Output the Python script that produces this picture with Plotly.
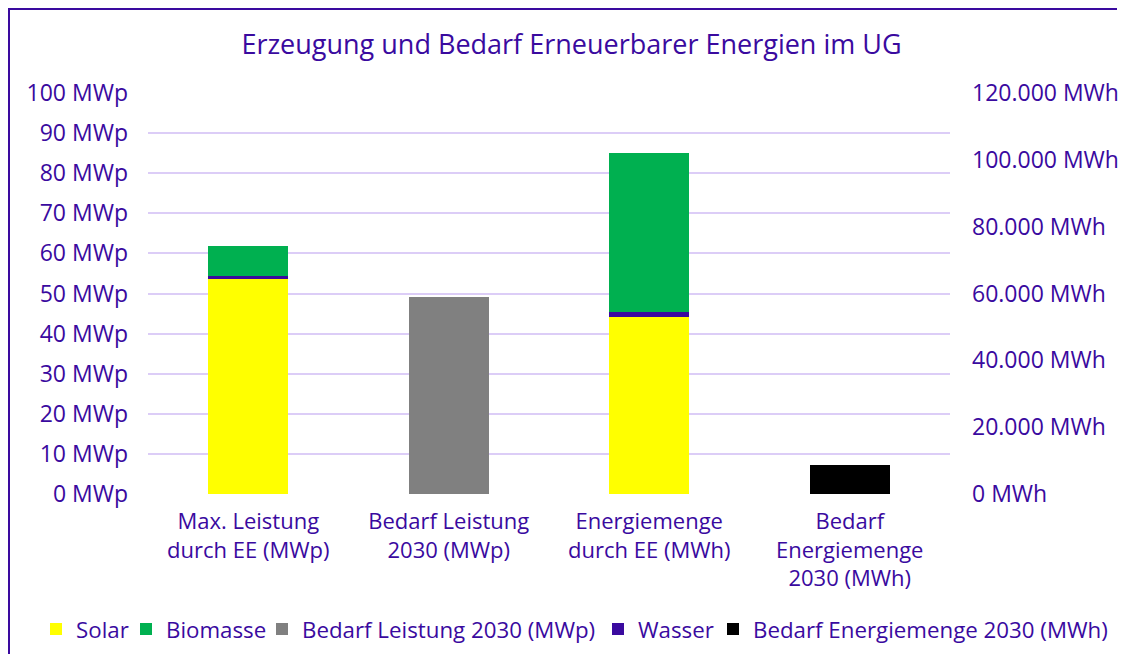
import plotly.graph_objects as go

categories = ["Max. Leistung<br>durch EE (MWp)", "Bedarf Leistung<br>2030 (MWp)",
              "Energiemenge<br>durch EE (MWh)", "Bedarf<br>Energiemenge<br>2030 (MWh)"]

# left axis (MWp) values
solar_mwp = [53.6, None, None, None]
wasser_mwp = [0.8, None, None, None]
biomasse_mwp = [7.4, None, None, None]
bedarf_leistung = [None, 49.1, None, None]

# right axis (MWh) values
solar_mwh = [None, None, 53000, None]
wasser_mwh = [None, None, 1500, None]
biomasse_mwh = [None, None, 47500, None]
bedarf_energie = [None, None, None, 8700]

left_ticks = [0, 10, 20, 30, 40, 50, 60, 70, 80, 90, 100]
left_labels = [f"{v} MWp" for v in left_ticks]
right_ticks = [0, 20000, 40000, 60000, 80000, 100000, 120000]
right_labels = [f"{v:,}".replace(",", ".") + " MWh" for v in right_ticks]

TXT = "#3A0A9F"
GRID = "#DCCDF7"
FONT = "Open Sans"

# page body has an 8px margin: work in screen pixels, convert to figure pixels
OFF = 8
W, H = 1129 - 2 * OFF, 662 - 2 * OFF
PL, PR, PT, PB = 148, 950, 93, 494          # plot area in screen pixels
L, R, T, B = PL - OFF, W - (PR - OFF), PT - OFF, H - (PB - OFF)
pw, ph = PR - PL, PB - PT

def px(sx):
    return (sx - PL) / pw

def py(sy):
    return (PB - sy) / ph

fig = go.Figure()

def bar(name, y, color, axis, legend="legend", show=True, group=None):
    fig.add_trace(go.Bar(
        name=name, x=categories, y=y, marker=dict(color=color, line=dict(width=0)),
        yaxis=axis, showlegend=show, legendgroup=group or name, legend=legend,
        hoverinfo="x+y+name"))

bar("Solar", solar_mwp, "#FFFF00", "y", "legend")
bar("Wasser", wasser_mwp, "#3A0A9F", "y", "legend4")
bar("Biomasse", biomasse_mwp, "#00B050", "y", "legend2")
bar("Bedarf Leistung 2030 (MWp)", bedarf_leistung, "#808080", "y", "legend3")
bar("Solar", solar_mwh, "#FFFF00", "y2", "legend", show=False, group="Solar")
bar("Wasser", wasser_mwh, "#3A0A9F", "y2", "legend4", show=False, group="Wasser")
bar("Biomasse", biomasse_mwh, "#00B050", "y2", "legend2", show=False, group="Biomasse")
bar("Bedarf Energiemenge 2030 (MWh)", bedarf_energie, "#000000", "y2", "legend5")

legend_text_x = [76, 166, 302, 638, 753]   # screen x where legend texts start
legend_y = 629

def leg(sx):
    return dict(orientation="h", x=px(sx - 40), xanchor="left", y=py(legend_y),
                yanchor="middle", font=dict(size=22.3, color=TXT, family=FONT),
                itemclick=False, itemdoubleclick=False, itemwidth=30,
                bgcolor="rgba(0,0,0,0)", borderwidth=0)

fig.update_layout(
    width=W, height=H,
    margin=dict(l=L, r=R, t=T, b=B, autoexpand=False),
    barmode="stack", bargap=0.6,
    paper_bgcolor="white", plot_bgcolor="white",
    font=dict(family=FONT, color=TXT, size=22),
    title=dict(text="Erzeugung und Bedarf Erneuerbarer Energien im UG",
               x=(571.5 - OFF) / W, xanchor="center", y=1 - (45 - OFF) / H,
               yanchor="middle", font=dict(size=27, color=TXT, family=FONT)),
    xaxis=dict(type="category", categoryorder="array", categoryarray=categories,
               showgrid=False, showline=False, zeroline=False, ticks="",
               tickfont=dict(size=22, color=TXT), ticklabelstandoff=12,
               automargin=False),
    yaxis=dict(range=[0, 100], tickvals=left_ticks, ticktext=left_labels,
               showgrid=True, gridcolor=GRID, gridwidth=2, zeroline=False,
               showline=False, ticks="", tickfont=dict(size=23, color=TXT),
               ticklabelstandoff=19, automargin=False),
    yaxis2=dict(range=[0, 120000], tickvals=right_ticks, ticktext=right_labels,
                overlaying="y", side="right", showgrid=False, zeroline=False,
                showline=False, ticks="", tickfont=dict(size=23, color=TXT),
                ticklabelstandoff=21, automargin=False),
    legend=leg(legend_text_x[0]),
    legend2=leg(legend_text_x[1]),
    legend3=leg(legend_text_x[2]),
    legend4=leg(legend_text_x[3]),
    legend5=leg(legend_text_x[4]),
    shapes=[
        # left border as a thin filled strip
        dict(type="rect", xref="paper", yref="paper",
             x0=px(OFF), x1=px(OFF + 2), y0=py(OFF + H), y1=py(OFF),
             fillcolor=TXT, line=dict(width=0), layer="below"),
        # top border as a thin filled strip
        dict(type="rect", xref="paper", yref="paper",
             x0=px(OFF), x1=px(OFF + W - 4), y0=py(OFF + 2), y1=py(OFF),
             fillcolor=TXT, line=dict(width=0), layer="below"),
    ],
)

fig.write_html("out.html")
